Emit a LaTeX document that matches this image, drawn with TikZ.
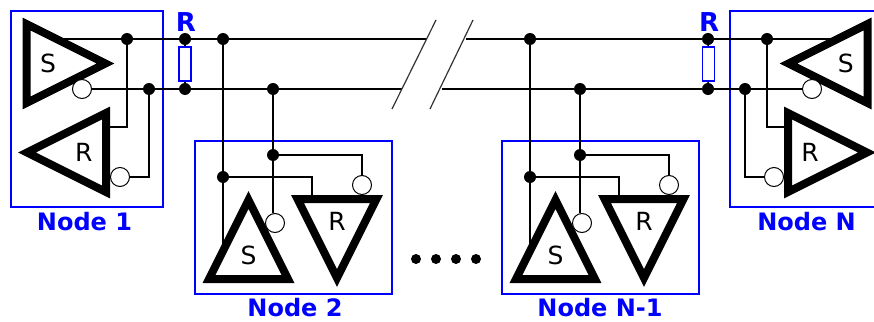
\documentclass[tikz,border=0pt]{standalone}
\usepackage{fontspec}
\setmainfont{DejaVu Sans}
\usetikzlibrary{shapes.geometric}
\definecolor{boxblue}{RGB}{0,0,255}
\tikzset{
    drvtri/.style={draw, isosceles triangle, isosceles triangle stretches, line width=8pt, outer sep=0pt, inner sep=0pt, minimum width=79pt, minimum height=79pt, font=\fontsize{25}{25}\selectfont},
    bubble/.style={draw, circle, fill=white, line width=1pt, inner sep=0pt, minimum size=19pt},
    junction/.style={circle, fill=black, inner sep=0pt, minimum size=12pt},
    wire/.style={line width=1.5pt},
    slash/.style={line width=1.2pt, black!80},
    groupbox/.style={draw=boxblue, line width=1.5pt},
    resistor/.style={draw=boxblue, line width=1.5pt, inner sep=0pt, minimum width=12pt, minimum height=34pt},
    bluelabel/.style={text=boxblue, inner sep=0pt, font=\fontsize{24}{24}\selectfont\bfseries},
    termlabel/.style={bluelabel, font=\fontsize{26}{26}\selectfont\bfseries}
}
\begin{document}
\begin{tikzpicture}[x=1pt, y=-1pt]
    \useasboundingbox (0,0) rectangle (874,321);
    % blue boxes
    \node[groupbox, minimum width=152pt, minimum height=196pt] (box1) at (87,109) {};
    \node[groupbox, minimum width=197pt, minimum height=153pt] (box2) at (293.5,217.5) {};
    \node[groupbox, minimum width=197pt, minimum height=153pt] (box3) at (600.5,217.5) {};
    \draw[groupbox] (874,11) -- (730,11) -- (730,207) -- (874,207);
    % drivers and receivers
    \node[drvtri, shape border rotate=0, anchor=lower side] (send1) at (26.5,63.5) {S};
    \node[drvtri, shape border rotate=180, anchor=lower side] (recv1) at (106,152.5) {R};
    \node[drvtri, shape border rotate=90, anchor=lower side] (send2) at (248.5,279) {S};
    \node[drvtri, shape border rotate=-90, anchor=lower side] (recv2) at (337,199) {R};
    \node[drvtri, shape border rotate=90, anchor=lower side] (send3) at (555.5,279) {S};
    \node[drvtri, shape border rotate=-90, anchor=lower side] (recv3) at (644,199) {R};
    \node[drvtri, shape border rotate=180, anchor=lower side] (sendN) at (867.5,63.5) {S};
    \node[drvtri, shape border rotate=0, anchor=lower side] (recvN) at (788,152.5) {R};
    % inverting outputs
    \node[bubble] (sbub1) at (82,89) {};
    \node[bubble] (rbub1) at (120,177) {};
    \node[bubble] (sbub2) at (275,223) {};
    \node[bubble] (rbub2) at (362,185) {};
    \node[bubble] (sbub3) at (582,223) {};
    \node[bubble] (rbub3) at (669,185) {};
    \node[bubble] (sbubN) at (812,89) {};
    \node[bubble] (rbubN) at (774,177) {};
    % line junctions
    \node[junction] (top1) at (127,39) {};
    \node[junction] (resA) at (185,39) {};
    \node[junction] (top2) at (223,39) {};
    \node[junction] (top3) at (530,39) {};
    \node[junction] (resC) at (708,39) {};
    \node[junction] (topN) at (767,39) {};
    \node[junction] (bot1) at (149,89) {};
    \node[junction] (resB) at (185,89) {};
    \node[junction] (bot2) at (273,89) {};
    \node[junction] (bot3) at (580,89) {};
    \node[junction] (resD) at (708,89) {};
    \node[junction] (botN) at (745,89) {};
    \node[junction] (tap2a) at (223,177) {};
    \node[junction] (tap2b) at (273,155) {};
    \node[junction] (tap3a) at (530,177) {};
    \node[junction] (tap3b) at (580,155) {};
    % terminating resistors
    \node[resistor] (term1) at (185,64) {};
    \node[resistor] (term2) at (708.5,64) {};
    \node[termlabel] (termlbl1) at (186,22) {R};
    \node[termlabel] (termlbl2) at (709,22) {R};
    % free ends
    \coordinate (send1in) at (56,39);
    \coordinate (sendNin) at (838,39);
    \coordinate (recv1in) at (106,127);
    \coordinate (recvNin) at (788,127);
    \coordinate (send2in) at (223,250);
    \coordinate (send3in) at (530,250);
    \coordinate (recv2in) at (312,199);
    \coordinate (recv3in) at (619,199);
    \coordinate (gapTL) at (427,39);
    \coordinate (gapTR) at (466,39);
    \coordinate (gapBL) at (402,89);
    \coordinate (gapBR) at (442,89);
    \coordinate (slashAa) at (392,109);
    \coordinate (slashAb) at (436,20);
    \coordinate (slashBa) at (430,109);
    \coordinate (slashBb) at (473,20);
    % bus lines
    \draw[wire] (send1in) -- (top1) -- (resA) -- (top2) -- (gapTL);
    \draw[wire] (gapTR) -- (top3) -- (resC) -- (topN) -- (sendNin);
    \draw[wire] (sbub1) -- (bot1) -- (resB) -- (bot2) -- (gapBL);
    \draw[wire] (gapBR) -- (bot3) -- (resD) -- (botN) -- (sbubN);
    \draw[slash] (slashAa) -- (slashAb);
    \draw[slash] (slashBa) -- (slashBb);
    \draw[wire] (resA) -- (term1) -- (resB);
    \draw[wire] (resC) -- (term2) -- (resD);
    % node 1
    \draw[wire] (top1) |- (recv1in);
    \draw[wire] (bot1) |- (rbub1);
    % node 2
    \draw[wire] (top2) -- (tap2a) -- (send2in);
    \draw[wire] (bot2) -- (tap2b) -- (tap2b |- sbub2.north);
    \draw[wire] (tap2a) -| (recv2in);
    \draw[wire] (tap2b) -| (rbub2);
    % node N-1
    \draw[wire] (top3) -- (tap3a) -- (send3in);
    \draw[wire] (bot3) -- (tap3b) -- (tap3b |- sbub3.north);
    \draw[wire] (tap3a) -| (recv3in);
    \draw[wire] (tap3b) -| (rbub3);
    % node N
    \draw[wire] (topN) |- (recvNin);
    \draw[wire] (botN) |- (rbubN);
    % dots between nodes
    \foreach \dotx/\dotname in {416/a, 436/b, 456/c, 476/d}
        \node[circle, fill=black, inner sep=0pt, minimum size=10pt] (dots\dotname) at (\dotx,259) {};
    % names
    \node[bluelabel] (name1) at (84.5,222) {Node 1};
    \node[bluelabel] (name2) at (295,308) {Node 2};
    \node[bluelabel] (name3) at (600,308) {Node N-1};
    \node[bluelabel] (nameN) at (806.5,222) {Node N};
\end{tikzpicture}
\end{document}
